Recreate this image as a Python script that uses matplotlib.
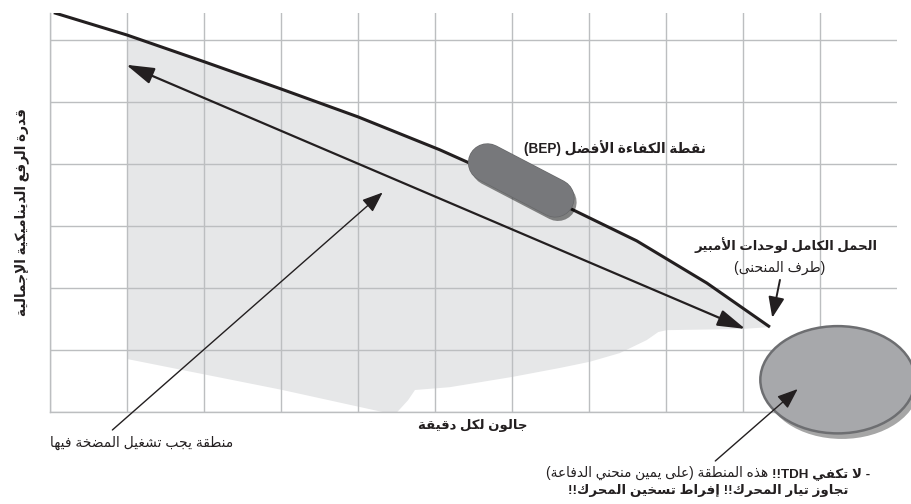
import matplotlib
matplotlib.use("Agg")
import matplotlib.pyplot as plt
import matplotlib.patheffects as pe
from matplotlib.patches import Ellipse, FancyArrowPatch

# Pump curve (flow and head in grid units)
pump_flow = [0.05, 1.0, 2.0, 3.0, 4.0, 5.06, 5.42, 6.71, 7.62, 8.53, 9.35]
pump_head = [6.44, 6.08, 5.65, 5.21, 4.76, 4.23, 4.03, 3.31, 2.76, 2.08, 1.37]

# Lower edge of the shaded operating region, from the left edge to the curve end
floor_flow = [1.0, 3.0, 4.32, 4.51, 4.65, 4.74, 5.19, 6.0, 6.62, 7.01, 7.40, 7.75, 7.90, 8.01, 9.0, 9.35]
floor_head = [0.855, 0.36, 0.0, 0.0, 0.19, 0.355, 0.40, 0.565, 0.71, 0.81, 0.95, 1.16, 1.29, 1.32, 1.34, 1.37]

# Operating range arrow, BEP capsule and run-out zone
run_flow = [0.99, 9.03]
run_head = [5.60, 1.34]
bep_flow = [5.68, 6.56]
bep_head = [4.02, 3.45]
runout_flow, runout_head = 10.23, 0.52
runout_w, runout_h = 2.01, 1.73

y_label = "قدرة الرفع الديناميكية الإجمالية"
x_label = "جالون لكل دقيقة"
bep_label = "نقطة الكفاءة الأفضل (BEP)"
full_load_label = "الحمل الكامل لوحدات الأمبير"
curve_end_label = "(طرف المنحنى)"
run_label = "منطقة يجب تشغيل المضخة فيها"
note_regular = "هذه المنطقة (على يمين منحني الدفاعة)"
note_bold = "- لا تكفي TDH!!"
note_line2 = "تجاوز تيار المحرك!! إفراط تسخين المحرك!!"

# --- minimal arabic shaping (matplotlib has no complex text layout) ---
# letter -> (isolated presentation form, number of forms)
AR_FORMS = {
    'ء': (0xFE80, 1), 'آ': (0xFE81, 2), 'أ': (0xFE83, 2), 'ؤ': (0xFE85, 2), 'إ': (0xFE87, 2),
    'ئ': (0xFE89, 4), 'ا': (0xFE8D, 2), 'ب': (0xFE8F, 4), 'ة': (0xFE93, 2), 'ت': (0xFE95, 4),
    'ث': (0xFE99, 4), 'ج': (0xFE9D, 4), 'ح': (0xFEA1, 4), 'خ': (0xFEA5, 4), 'د': (0xFEA9, 2),
    'ذ': (0xFEAB, 2), 'ر': (0xFEAD, 2), 'ز': (0xFEAF, 2), 'س': (0xFEB1, 4), 'ش': (0xFEB5, 4),
    'ص': (0xFEB9, 4), 'ض': (0xFEBD, 4), 'ط': (0xFEC1, 4), 'ظ': (0xFEC5, 4), 'ع': (0xFEC9, 4),
    'غ': (0xFECD, 4), 'ف': (0xFED1, 4), 'ق': (0xFED5, 4), 'ك': (0xFED9, 4), 'ل': (0xFEDD, 4),
    'م': (0xFEE1, 4), 'ن': (0xFEE5, 4), 'ه': (0xFEE9, 4), 'و': (0xFEED, 2), 'ى': (0xFEEF, 2),
    'ي': (0xFEF1, 4),
}
LAM_ALEF = {'آ': 0xFEF5, 'أ': 0xFEF7, 'إ': 0xFEF9, 'ا': 0xFEFB}
MIRROR = {'(': ')', ')': '('}


def shape(s):
    toks = []
    i = 0
    while i < len(s):
        c = s[i]
        if c == 'ل' and i + 1 < len(s) and s[i + 1] in LAM_ALEF:
            toks.append((LAM_ALEF[s[i + 1]], 2))
            i += 2
            continue
        toks.append(AR_FORMS.get(c, c))
        i += 1
    out = []
    for k, t in enumerate(toks):
        if isinstance(t, str):
            out.append(t)
            continue
        base, n = t
        prev = toks[k - 1] if k > 0 else None
        nxt = toks[k + 1] if k + 1 < len(toks) else None
        jp = n > 1 and isinstance(prev, tuple) and prev[1] == 4
        jn = n == 4 and isinstance(nxt, tuple) and nxt[1] > 1
        if jp and jn:
            off = 3
        elif jp:
            off = 1
        elif jn:
            off = 2
        else:
            off = 0
        out.append(chr(base + off))
    return ''.join(out)


def ar(s):
    # shape, then lay out right-to-left keeping latin runs in order
    s = shape(s)
    dirs = []
    for c in s:
        if c.isascii() and c.isalnum():
            dirs.append('L')
        elif '\u0600' <= c <= '\u06ff' or '\ufb50' <= c <= '\ufeff':
            dirs.append('R')
        else:
            dirs.append('N')
    res = dirs[:]
    i, n = 0, len(s)
    while i < n:
        if dirs[i] != 'N':
            i += 1
            continue
        j = i
        while j < n and dirs[j] == 'N':
            j += 1
        before = dirs[i - 1] if i > 0 else 'R'
        after = dirs[j] if j < n else 'R'
        d = 'L' if before == after == 'L' else 'R'
        for k in range(i, j):
            res[k] = d
        i = j
    runs = []
    for c, d in zip(s, res):
        if runs and runs[-1][0] == d:
            runs[-1][1].append(c)
        else:
            runs.append([d, [c]])
    out = []
    for d, cs in reversed(runs):
        if d == 'R':
            out.extend(MIRROR.get(c, c) for c in reversed(cs))
        else:
            out.extend(cs)
    return ''.join(out)


plt.rcParams['font.family'] = ['Liberation Sans', 'DejaVu Sans']
INK = '#231f20'
GRID = '#bcbec0'

W, H = 912, 504
fig = plt.figure(figsize=(W / 100, H / 100), dpi=100)
ax = fig.add_axes([50 / W, 1 - 412 / H, 847 / W, 399 / H])
ax.set_xlim(0, 11)
ax.set_ylim(0, 6.435)
ax.set_xticks(range(0, 11))
ax.set_yticks(range(0, 7))
ax.tick_params(length=0, labelbottom=False, labelleft=False)
ax.grid(True, color=GRID, linewidth=1)
for side in ['top', 'right']:
    ax.spines[side].set_visible(False)
for side in ['left', 'bottom']:
    ax.spines[side].set_color(GRID)
    ax.spines[side].set_linewidth(1)

# shaded region between the curve and its lower edge
top = [(f, h) for f, h in zip(pump_flow, pump_head) if f >= floor_flow[0]]
poly = top + list(zip(floor_flow, floor_head))[::-1]
ax.fill([p[0] for p in poly], [p[1] for p in poly], color='#e6e7e8', lw=0, zorder=1)

ax.plot(pump_flow, pump_head, color=INK, lw=2.2, solid_capstyle='butt', zorder=3)

# operating range double arrow
ax.add_patch(FancyArrowPatch((run_flow[0], run_head[0]), (run_flow[1], run_head[1]),
                             arrowstyle='<|-|>,head_length=1.0,head_width=0.3',
                             mutation_scale=17, color=INK, lw=1.6, shrinkA=0, shrinkB=0, zorder=3))

# BEP capsule
ax.plot(bep_flow, bep_head, color='#77787b', lw=27, solid_capstyle='round', zorder=5,
        path_effects=[pe.SimpleLineShadow(offset=(2, -3), shadow_color='black', alpha=0.45),
                      pe.Stroke(linewidth=28, foreground='#666769'), pe.Normal()])

# run-out zone
ell = Ellipse((runout_flow, runout_head), runout_w, runout_h, facecolor='#a7a8ab',
              edgecolor='#6d6e71', lw=1.8, clip_on=False, zorder=5,
              path_effects=[pe.SimplePatchShadow(offset=(3, -4), shadow_rgbFace='black', alpha=0.35),
                            pe.Normal()])
ax.add_patch(ell)

thin = dict(arrowstyle='-|>,head_length=0.9,head_width=0.35', color=INK, lw=1.0,
            mutation_scale=14, shrinkA=0, shrinkB=0)
ax.annotate('', xy=(4.32, 3.54), xytext=(0.81, -0.29), arrowprops=thin,
            annotation_clip=False, zorder=6)
ax.annotate('', xy=(pump_flow[-1] + 0.03, pump_head[-1] + 0.15), xytext=(9.48, 2.13),
            arrowprops=dict(thin, lw=1.4), annotation_clip=False, zorder=6)
ax.annotate('', xy=(9.71, 0.37), xytext=(8.64, -0.79), arrowprops=thin,
            annotation_clip=False, zorder=6)


def ftext(x, y, s, **kw):
    kw.setdefault('color', INK)
    kw.setdefault('size', 10)
    return fig.text(x / W, 1 - y / H, ar(s), **kw)


ftext(22, 212, y_label, rotation=90, ha='center', va='center', weight='bold', size=9.8)
ftext(473, 425, x_label, ha='center', va='center', weight='bold', size=9.5)
ftext(615, 148, bep_label, ha='center', va='center', weight='bold', size=9.8)
ftext(786, 245, full_load_label, ha='center', va='center', weight='bold', size=9.5)
ftext(780, 268, curve_end_label, ha='center', va='center')
ftext(50, 443, run_label, ha='left', va='center')

# bottom note: regular part on the left, bold part on the right
reg = ftext(0, 477, note_regular, ha='left', va='baseline', size=9.8)
bld = ftext(0, 477, note_bold, ha='left', va='baseline', weight='bold', size=9.6)
rend = fig.canvas.get_renderer()
w1 = reg.get_window_extent(rend).width
w2 = bld.get_window_extent(rend).width
gap = 4
left = 708 - (w1 + gap + w2) / 2
reg.set_x(left / W)
bld.set_x((left + w1 + gap) / W)
ftext(708, 494, note_line2, ha='center', va='baseline', weight='bold', size=9.6)

fig.savefig('out.png', dpi=100)
